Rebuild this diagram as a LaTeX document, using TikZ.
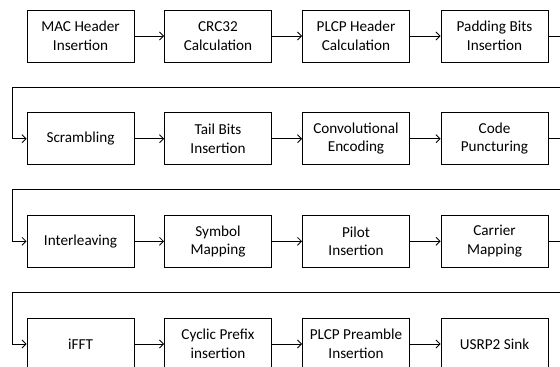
\documentclass[tikz,border=0pt]{standalone}
\usepackage{fontspec}
\setmainfont{Carlito}
\usetikzlibrary{arrows.meta}

\begin{document}
\begin{tikzpicture}[x=1pt,y=-1pt,
        blk/.style={draw,line width=0.9pt,minimum width=107pt,minimum height=52pt,
            align=center,inner sep=2pt,font=\fontsize{15.2}{18.5}\selectfont},
        link/.style={draw,line width=0.8pt,-{Straight Barb[length=4pt,width=8pt]}}]
    \useasboundingbox (0,0) rectangle (560,367);
    % row 1
    \node[blk] (mac)  at (80.5,36) {MAC Header\\Insertion};
    \node[blk] (crc)  at (218,36)  {CRC32\\Calculation};
    \node[blk] (phdr) at (356,36)  {PLCP Header\\Calculation};
    \node[blk] (pad)  at (494.5,36) {Padding Bits\\Insertion};
    % row 2
    \node[blk] (scr)  at (80.5,138.7) {Scrambling};
    \node[blk] (tail) at (218,138.7)  {Tail Bits\\Insertion};
    \node[blk] (conv) at (356,138.7)  {Convolutional\\Encoding};
    \node[blk] (punc) at (494.5,138.7) {Code\\Puncturing};
    % row 3
    \node[blk] (intl)  at (80.5,241.3) {Interleaving};
    \node[blk] (symb)  at (218,241.3)  {Symbol\\Mapping};
    \node[blk] (pilot) at (356,241.3)  {Pilot\\Insertion};
    \node[blk] (carr)  at (494.5,241.3) {Carrier\\Mapping};
    % row 4
    \node[blk] (ifft) at (80.5,344) {iFFT};
    \node[blk] (cp)   at (218,344)  {Cyclic Prefix\\insertion};
    \node[blk] (pre)  at (356,344)  {PLCP Preamble\\Insertion};
    \node[blk] (sink) at (494.5,344) {USRP2 Sink};
    % wrap points
    \coordinate (r1) at (575,87);  \coordinate (w1) at (12,87);
    \coordinate (r2) at (575,189); \coordinate (w2) at (12,189);
    \coordinate (r3) at (575,292); \coordinate (w3) at (12,292);
    % links
    \draw[link] (mac) -- (crc);
    \draw[link] (crc) -- (phdr);
    \draw[link] (phdr) -- (pad);
    \draw[link] (pad.east) -| (r1) -- (w1) |- (scr.west);
    \draw[link] (scr) -- (tail);
    \draw[link] (tail) -- (conv);
    \draw[link] (conv) -- (punc);
    \draw[link] (punc.east) -| (r2) -- (w2) |- (intl.west);
    \draw[link] (intl) -- (symb);
    \draw[link] (symb) -- (pilot);
    \draw[link] (pilot) -- (carr);
    \draw[link] (carr.east) -| (r3) -- (w3) |- (ifft.west);
    \draw[link] (ifft) -- (cp);
    \draw[link] (cp) -- (pre);
    \draw[link] (pre) -- (sink);
\end{tikzpicture}
\end{document}
